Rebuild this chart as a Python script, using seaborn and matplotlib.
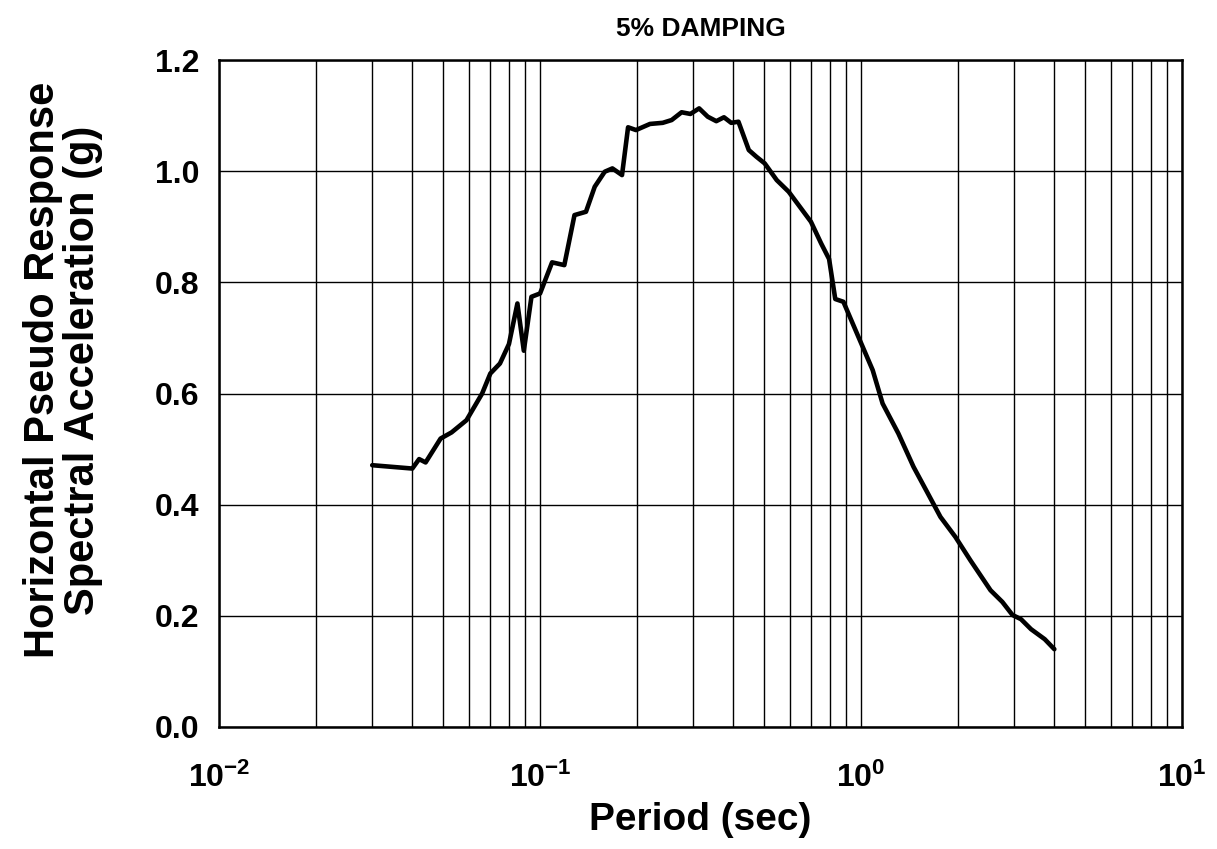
import matplotlib
matplotlib.use("Agg")
import matplotlib.pyplot as plt
import seaborn as sns
import pandas as pd
from matplotlib.ticker import LogLocator, MultipleLocator, NullFormatter

# response spectrum
period = [0.030, 0.040, 0.042, 0.044, 0.049, 0.053, 0.059, 0.066, 0.070, 0.075,
          0.080, 0.085, 0.089, 0.094, 0.100, 0.109, 0.119, 0.128, 0.139, 0.148,
          0.159, 0.168, 0.180, 0.188, 0.199, 0.220, 0.241, 0.257, 0.276, 0.294,
          0.313, 0.333, 0.354, 0.374, 0.394, 0.415, 0.447, 0.472, 0.501, 0.546,
          0.595, 0.656, 0.698, 0.751, 0.795, 0.831, 0.881, 0.981, 1.087, 1.167,
          1.307, 1.457, 1.605, 1.767, 1.967, 2.190, 2.531, 2.755, 2.963, 3.149,
          3.384, 3.733, 4.000]
sa = [0.471, 0.465, 0.482, 0.476, 0.519, 0.530, 0.552, 0.600, 0.636, 0.654,
      0.689, 0.762, 0.677, 0.774, 0.780, 0.836, 0.831, 0.921, 0.927, 0.972,
      0.999, 1.005, 0.993, 1.079, 1.074, 1.085, 1.087, 1.092, 1.106, 1.103,
      1.113, 1.098, 1.090, 1.097, 1.087, 1.089, 1.038, 1.026, 1.014, 0.984,
      0.963, 0.930, 0.909, 0.870, 0.842, 0.770, 0.765, 0.702, 0.642, 0.582,
      0.528, 0.468, 0.423, 0.378, 0.342, 0.300, 0.246, 0.225, 0.2015, 0.194,
      0.176, 0.158, 0.140]

df = pd.DataFrame({"Period": period, "SA": sa})

sns.set_style("white")
plt.rcParams["font.family"] = ["Liberation Sans", "DejaVu Sans"]
plt.rcParams["font.weight"] = "bold"
plt.rcParams["text.color"] = "black"
plt.rcParams["axes.labelcolor"] = "black"
plt.rcParams["xtick.color"] = "black"
plt.rcParams["ytick.color"] = "black"
plt.rcParams["axes.unicode_minus"] = False
plt.rcParams["mathtext.fontset"] = "custom"
plt.rcParams["mathtext.rm"] = "Liberation Sans:bold"
plt.rcParams["mathtext.it"] = "Liberation Sans:bold"
plt.rcParams["mathtext.bf"] = "Liberation Sans:bold"
plt.rcParams["mathtext.default"] = "rm"

fig = plt.figure(figsize=(12.17, 8.49), dpi=100)
ax = fig.add_axes([0.18, 0.1437, 0.7913, 0.7856])

sns.lineplot(x="Period", y="SA", data=df, ax=ax, color="black", linewidth=3.3,
             sort=False, estimator=None)

ax.set_xscale("log")
ax.set_xlim(0.01, 10)
ax.set_ylim(0, 1.2)
ax.xaxis.set_major_locator(LogLocator(base=10, numticks=10))
ax.xaxis.set_minor_locator(LogLocator(base=10, subs=range(2, 10), numticks=50))
ax.xaxis.set_minor_formatter(NullFormatter())
ax.yaxis.set_major_locator(MultipleLocator(0.2))
ax.yaxis.set_major_formatter(plt.FuncFormatter(lambda v, p: f"{v:.1f}"))

ax.grid(True, which="both", axis="x", color="black", linewidth=1.0)
ax.grid(True, which="major", axis="y", color="black", linewidth=1.0)
for s in ax.spines.values():
    s.set_color("black")
    s.set_linewidth(1.8)

ax.tick_params(axis="both", which="both", length=0)
ax.tick_params(axis="x", labelsize=23, pad=26)
ax.tick_params(axis="y", labelsize=23, pad=14)

ax.set_title("5% DAMPING", fontsize=19, fontweight="bold", pad=17)
ax.set_xlabel("Period (sec)", fontsize=28, fontweight="bold")
ax.xaxis.set_label_coords(0.5, -0.112)
ax.set_ylabel("Horizontal Pseudo Response\nSpectral Acceleration (g)",
              fontsize=30, fontweight="bold", linespacing=1.0)
ax.yaxis.set_label_coords(-0.12, 0.535)

fig.savefig("out.png", dpi=100)
